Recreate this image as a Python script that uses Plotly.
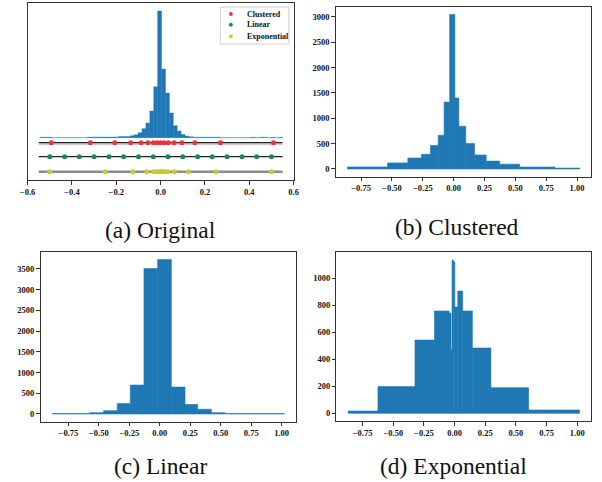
import numpy as np
import plotly.graph_objects as go

# ---------------- data ----------------
# (a) Original: fine histogram of weights (arbitrary count units), bins of equal width
hist_a_start = -0.543
hist_a_width = 0.01765
hist_a_counts = [12, 12, 12, 0, 0, 0, 0, 0, 0, 0, 0, 0,
                 14, 14, 14, 14, 14, 14, 17, 17, 31, 31, 31, 48, 72, 120, 216, 353, 641, 1224,
                 3041, 1649, 1073, 593, 288, 161, 79, 41, 24, 12, 12,
                 12, 12, 12, 12, 12, 0, 0, 0, 0, 0, 0, 0, 0,
                 10, 0, 10, 10, 0, 10, 0, 10]

# quantisation levels shown in (a)
clustered_levels = [-0.493, -0.317, -0.207, -0.135, -0.088, -0.057, -0.033, -0.015,
                    0.001, 0.017, 0.035, 0.061, 0.096, 0.154, 0.270, 0.509]
linear_levels = [-0.5, -0.433, -0.367, -0.3, -0.233, -0.167, -0.1, -0.033,
                 0.033, 0.1, 0.167, 0.233, 0.3, 0.367, 0.433, 0.5]
exponential_levels = [-0.5, -0.25, -0.125, -0.0625, -0.03125, -0.015625, -0.0078,
                      0.0, 0.0078, 0.015625, 0.03125, 0.0625, 0.125, 0.25, 0.5]
level_extent = [-0.55, 0.55]
row_y = [-120, -456, -816]   # vertical placement of the three rows (same units as counts)
legend_names = ["Clustered", "Linear", "Exponential"]
ticks_a = [-0.6, -0.4, -0.2, 0.0, 0.2, 0.4, 0.6]

# (b) Clustered
edges_b = [-0.861, -0.535, -0.371, -0.260, -0.188, -0.125, -0.077, -0.032, 0.010,
           0.042, 0.098, 0.169, 0.264, 0.373, 0.535, 0.821, 1.020]
counts_b = [40, 120, 215, 290, 465, 665, 1320, 3050, 1400, 845, 505, 275, 155, 95, 38, 18]

# (c) Linear
edges_c = [-0.883, -0.576, -0.461, -0.349, -0.242, -0.130, -0.018, 0.095, 0.207,
           0.311, 0.423, 0.533, 1.022]
counts_c = [10, 32, 80, 250, 697, 3510, 3730, 648, 227, 113, 32, 10]

# (d) Exponential
edges_d = [-0.869, -0.625, -0.323, -0.164, -0.045, -0.029, -0.021, -0.011, 0.002,
           0.026, 0.066, 0.145, 0.296, 0.604, 1.019]
counts_d = [17, 198, 543, 758, 743, 469, 1136, 1123, 787, 906, 758, 484, 190, 25]

captions = ["(a) Original", "(b) Clustered", "(c) Linear", "(d) Exponential"]

# ---------------- styling ----------------
W, H = 602, 482
BLUE = "#1f77b4"
FONT = "Liberation Serif"
AX = "#333333"
MARK_COLORS = ["#f0333a", "#1a8a4e", "#c9c93a"]
LINE_STYLES = [("#222222", 1.2), ("#222222", 1.2), ("#8c8c8c", 2.6)]


def px(x):
    return x / W


def py(y):
    return 1 - y / H


def dx(a, b):
    return [px(a), px(b)]


def dy(top, bottom):
    return [py(bottom), py(top)]


fig = go.Figure()

# (a) histogram
n_a = len(hist_a_counts)
left_a = hist_a_start + hist_a_width * np.arange(n_a)
fig.add_trace(go.Bar(x=left_a + hist_a_width / 2, y=hist_a_counts,
                     width=[hist_a_width] * n_a,
                     marker=dict(color=BLUE, line=dict(width=0.4, color=BLUE)),
                     showlegend=False, xaxis="x", yaxis="y"))

level_sets = [clustered_levels, linear_levels, exponential_levels]
# light halo under the clustered row, then the row lines
fig.add_trace(go.Scatter(x=level_extent, y=[row_y[0] - 40, row_y[0] - 40], mode="lines",
                         line=dict(color="#cfcfcf", width=2), showlegend=False,
                         hoverinfo="skip", xaxis="x", yaxis="y"))
for (lcol, lw), yy in zip(LINE_STYLES, row_y):
    fig.add_trace(go.Scatter(x=level_extent, y=[yy, yy], mode="lines",
                             line=dict(color=lcol, width=lw), showlegend=False,
                             hoverinfo="skip", xaxis="x", yaxis="y"))
for name, lv, mcol, yy in zip(legend_names, level_sets, MARK_COLORS, row_y):
    fig.add_trace(go.Scatter(x=lv, y=[yy] * len(lv), mode="markers", name=name,
                             marker=dict(color=mcol, size=5), showlegend=False,
                             xaxis="x", yaxis="y"))


def add_hist(edges, counts, xa, ya):
    e = np.array(edges)
    fig.add_trace(go.Bar(x=(e[:-1] + e[1:]) / 2, y=counts, width=np.diff(e),
                         marker=dict(color=BLUE, line=dict(width=0.6, color=BLUE)),
                         showlegend=False, xaxis=xa, yaxis=ya))


add_hist(edges_b, counts_b, "x2", "y2")
add_hist(edges_c, counts_c, "x3", "y3")
add_hist(edges_d, counts_d, "x4", "y4")

tickfont = dict(family=FONT, size=8.5, color="#111111", weight="bold")
common = dict(showline=True, linecolor=AX, linewidth=1.1, mirror=True, ticks="outside",
              ticklen=3.5, tickwidth=0.8, tickcolor=AX, tickfont=tickfont,
              showgrid=False, zeroline=False, fixedrange=True)


def xr(edges):
    span = edges[-1] - edges[0]
    return [edges[0] - 0.05 * span, edges[-1] + 0.05 * span]


def yr(counts):
    m = max(counts)
    return [-0.05 * m, 1.05 * m]


ya_common = dict(common)
ya_common.update(ticks="", showticklabels=False)

fig.update_layout(
    width=W, height=H, margin=dict(l=0, r=0, t=0, b=0),
    paper_bgcolor="white", plot_bgcolor="white", barmode="overlay",
    showlegend=False,
    xaxis=dict(domain=dx(20, 292), range=[-0.6002, 0.6002], tickvals=ticks_a,
               ticktext=[f"{t:.1f}".replace("-", "\u2212") for t in ticks_a],
               anchor="y", **common),
    yaxis=dict(domain=dy(3, 180), range=[-1015, 3233], anchor="x", **ya_common),
    xaxis2=dict(domain=dx(335, 596), range=xr(edges_b), tick0=0, dtick=0.25, tickformat=".2f",
                anchor="y2", **common),
    yaxis2=dict(domain=dy(6.7, 176.7), range=yr(counts_b), tick0=0, dtick=500, anchor="x2", **common),
    xaxis3=dict(domain=dx(33.3, 294.3), range=xr(edges_c), tick0=0, dtick=0.25, tickformat=".2f",
                anchor="y3", **common),
    yaxis3=dict(domain=dy(251.7, 421.7), range=yr(counts_c), tick0=0, dtick=500, anchor="x3", **common),
    xaxis4=dict(domain=dx(335.7, 596), range=xr(edges_d), tick0=0, dtick=0.25, tickformat=".2f",
                anchor="y4", **common),
    yaxis4=dict(domain=dy(252.3, 421), range=yr(counts_d), tick0=0, dtick=200, anchor="x4", **common),
)

# legend box for (a), drawn as layout decoration
fig.add_shape(type="rect", xref="paper", yref="paper", x0=px(217), x1=px(287), y0=py(44), y1=py(7),
              line=dict(color="#d0d0d0", width=1), fillcolor="white", layer="above")
legend_rows_y = [14, 24.7, 36.4]
for name, mcol, ry in zip(legend_names, MARK_COLORS, legend_rows_y):
    fig.add_shape(type="circle", xref="paper", yref="paper",
                  x0=px(225.8), x1=px(229.8), y0=py(ry + 2), y1=py(ry - 2),
                  line=dict(width=0), fillcolor=mcol, layer="above")
    fig.add_annotation(text=name, x=px(242.5), y=py(ry), xref="paper", yref="paper",
                       xanchor="left", yanchor="middle", showarrow=False,
                       font=dict(family=FONT, size=8, color="#111111", weight="bold"))

cap_pos = [(155.5, 229.5), (459, 226.5), (155.5, 466), (455, 466)]
for txt, (cx, cy) in zip(captions, cap_pos):
    fig.add_annotation(text=txt, x=px(cx), y=py(cy), xref="paper", yref="paper",
                       xanchor="center", yanchor="middle", showarrow=False,
                       font=dict(family=FONT, size=23.5, color="#111111"))

fig.write_html("out.html", config={"displayModeBar": False, "responsive": False},
               post_script="document.body.style.margin='0';document.body.style.padding='0';"
                           "document.body.style.overflow='hidden';")
